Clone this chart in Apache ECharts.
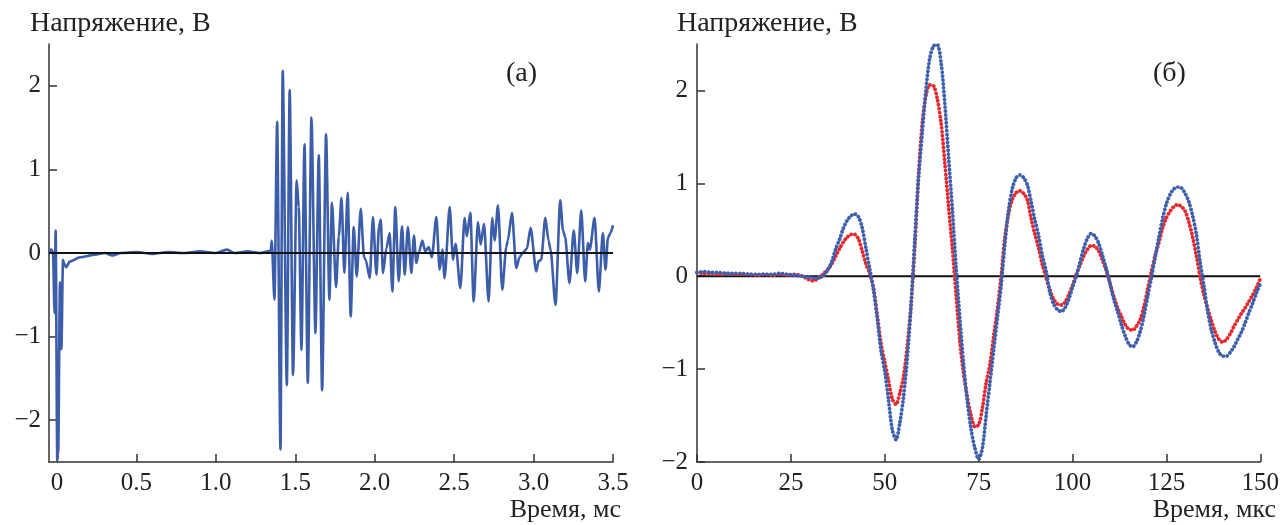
<!DOCTYPE html>
<html>
<head>
<meta charset="utf-8">
<title>Напряжение</title>
<script src="https://cdn.jsdelivr.net/npm/echarts@6.0.0/dist/echarts.min.js"></script>
<style>
  html, body { margin: 0; padding: 0; background: #fff; }
  #chart { width: 1282px; height: 525px; }
</style>
</head>
<body>
<div id="chart"></div>
<script>
// Panel (а): full record, time in ms, voltage in V
const leftTime = [
  -0.050, -0.038, -0.025, -0.015, -0.008, 0.002, 0.008, 0.019, 0.028, 0.038,
  0.044, 0.057, 0.082, 0.145, 0.240, 0.300, 0.350, 0.400, 0.500, 0.600,
  0.700, 0.800, 0.900, 1.000, 1.070, 1.120, 1.200, 1.280, 1.327, 1.346,
  1.352, 1.369, 1.386, 1.407, 1.421, 1.447, 1.465, 1.486, 1.509, 1.522,
  1.539, 1.558, 1.579, 1.602, 1.627, 1.648, 1.669, 1.694, 1.715, 1.731,
  1.757, 1.774, 1.791, 1.809, 1.830, 1.849, 1.868, 1.887, 1.912, 1.933,
  1.943, 1.969, 1.989, 2.011, 2.027, 2.038, 2.052, 2.074, 2.094, 2.111,
  2.130, 2.151, 2.172, 2.189, 2.209, 2.231, 2.247, 2.262, 2.277, 2.300,
  2.318, 2.340, 2.360, 2.388, 2.409, 2.426, 2.440, 2.472, 2.493, 2.509,
  2.539, 2.566, 2.580, 2.602, 2.623, 2.650, 2.667, 2.688, 2.717, 2.740,
  2.755, 2.776, 2.803, 2.828, 2.838, 2.864, 2.891, 2.912, 2.931, 2.958,
  2.981, 3.017, 3.031, 3.048, 3.074, 3.094, 3.107, 3.138, 3.168, 3.185,
  3.199, 3.226, 3.253, 3.275, 3.300, 3.325, 3.342, 3.354, 3.384, 3.411,
  3.436, 3.453, 3.468, 3.484, 3.500
];
const leftVolt = [
  0.00, 0.04, 0.02, -0.72, 0.27, -2.48, -2.40, -0.35, -1.15, -0.08,
  -0.12, -0.17, -0.10, -0.05, -0.02, 0.00, -0.03, 0.00, 0.01, -0.01,
  0.01, 0.00, 0.02, 0.00, 0.04, 0.00, 0.02, 0.00, 0.02, 0.03,
  0.15, -0.56, 1.57, -2.35, 2.18, -1.58, 1.95, -1.46, 0.87, 0.55,
  -1.16, 1.30, -1.55, 1.62, -0.96, 1.17, -1.64, 1.42, -0.56, 0.60,
  -0.41, 0.20, 0.66, -0.24, 0.72, -0.76, 0.31, -0.28, 0.53, -0.05,
  -0.08, -0.30, 0.43, -0.26, 0.31, 0.40, -0.24, 0.06, 0.24, -0.46,
  0.55, -0.34, 0.32, -0.26, 0.31, -0.24, 0.21, -0.12, 0.00, 0.15,
  0.02, 0.07, -0.05, 0.43, -0.20, 0.04, -0.30, 0.55, -0.08, 0.11,
  -0.42, 0.42, 0.20, 0.48, -0.58, 0.37, 0.10, 0.35, -0.58, 0.42,
  0.15, 0.57, -0.44, 0.07, 0.15, 0.48, -0.18, -0.05, 0.00, 0.05,
  0.30, -0.22, -0.10, -0.08, 0.42, 0.15, 0.04, -0.62, 0.63, 0.27,
  0.19, -0.36, 0.27, -0.24, 0.51, -0.34, 0.12, 0.04, 0.42, -0.46,
  0.24, -0.20, 0.18, 0.24, 0.33
];

// Panel (б): first 150 µs, two recordings
const rightTime = [
  0, 2, 4, 6, 8, 10, 12, 14, 16, 18, 20, 22, 24, 26, 28,
  29, 30, 31, 32, 33, 34, 35, 36, 37, 38,
  39, 40, 41, 42, 43, 44, 45, 46, 47, 48,
  49, 50, 51, 52, 53, 54, 55, 56, 57, 58,
  59, 60, 61, 62, 63, 64, 65, 66, 67, 68,
  69, 70, 71, 72, 73, 74, 75, 76, 77, 78,
  79, 80, 81, 82, 83, 84, 85, 86, 87, 88,
  89, 90, 91, 92, 93, 94, 95, 96, 97, 98,
  99, 100, 101, 102, 103, 104, 105, 106, 107, 108,
  109, 110, 111, 112, 113, 114, 115, 116, 117, 118,
  119, 120, 121, 122, 123, 124, 125, 126, 127, 128,
  129, 130, 131, 132, 133, 134, 135, 136, 137, 138,
  139, 140, 141, 142, 143, 144, 145, 146, 147, 148,
  149, 150
];
const blueVolt = [
  0.04, 0.05, 0.04, 0.04, 0.03, 0.03, 0.03, 0.02, 0.02, 0.02, 0.02, 0.03, 0.02, 0.01, 0.00,
  -0.01, -0.01, -0.02, -0.02, -0.01, 0.02, 0.08, 0.17, 0.30, 0.40,
  0.52, 0.60, 0.65, 0.67, 0.64, 0.52, 0.30, 0.08, -0.15, -0.45,
  -0.80, -1.02, -1.33, -1.65, -1.76, -1.58, -1.30, -0.88, -0.32, 0.40,
  1.05, 1.55, 2.02, 2.35, 2.48, 2.49, 2.30, 1.86, 1.28, 0.72,
  0.10, -0.45, -0.95, -1.35, -1.65, -1.85, -1.97, -1.85, -1.50, -1.15,
  -0.80, -0.45, -0.10, 0.35, 0.72, 0.95, 1.06, 1.09, 1.06, 0.98,
  0.80, 0.60, 0.43, 0.22, 0.05, -0.18, -0.30, -0.36, -0.38, -0.34,
  -0.25, -0.12, 0.00, 0.15, 0.30, 0.41, 0.46, 0.43, 0.35, 0.22,
  0.08, -0.08, -0.25, -0.38, -0.52, -0.64, -0.73, -0.76, -0.71, -0.60,
  -0.43, -0.22, -0.02, 0.20, 0.42, 0.62, 0.78, 0.88, 0.94, 0.96,
  0.95, 0.89, 0.80, 0.65, 0.45, 0.15, -0.10, -0.38, -0.58, -0.72,
  -0.82, -0.86, -0.86, -0.82, -0.76, -0.68, -0.60, -0.50, -0.39, -0.29,
  -0.18, -0.08
];
const redVolt = [
  0.04, 0.03, 0.03, 0.02, 0.03, 0.02, 0.02, 0.02, 0.01, 0.02, 0.01, 0.02, 0.01, 0.02, 0.00,
  -0.02, -0.04, -0.05, -0.03, 0.00, 0.04, 0.08, 0.14, 0.22, 0.30,
  0.37, 0.42, 0.45, 0.45, 0.40, 0.27, 0.13, 0.03, -0.12, -0.42,
  -0.72, -0.92, -1.12, -1.32, -1.38, -1.26, -1.08, -0.75, -0.30, 0.30,
  1.10, 1.65, 1.95, 2.06, 2.05, 1.91, 1.65, 1.22, 0.75, 0.30,
  -0.20, -0.70, -1.05, -1.30, -1.50, -1.62, -1.60, -1.42, -1.15, -0.95,
  -0.65, -0.35, 0.00, 0.42, 0.68, 0.83, 0.90, 0.92, 0.89, 0.82,
  0.62, 0.45, 0.30, 0.12, -0.02, -0.15, -0.25, -0.30, -0.31, -0.28,
  -0.20, -0.10, 0.02, 0.12, 0.22, 0.29, 0.33, 0.32, 0.27, 0.17,
  0.06, -0.08, -0.22, -0.34, -0.43, -0.52, -0.57, -0.58, -0.54, -0.47,
  -0.33, -0.14, 0.05, 0.22, 0.36, 0.52, 0.63, 0.70, 0.75, 0.77,
  0.75, 0.70, 0.58, 0.42, 0.22, -0.01, -0.20, -0.35, -0.48, -0.60,
  -0.68, -0.71, -0.68, -0.62, -0.54, -0.47, -0.40, -0.34, -0.27, -0.20,
  -0.12, -0.03
];

// Tick values
const leftXTicks = [0, 0.5, 1.0, 1.5, 2.0, 2.5, 3.0, 3.5];
const yTicks = [-2, -1, 0, 1, 2];

const zip = (xs, ys) => xs.map((x, i) => [x, ys[i]]);

const FONT = '"Liberation Serif", "DejaVu Serif", serif';
const INK = '#222';
const AXIS = '#333';
const minus = v => (v < 0 ? '\u2212' + Math.abs(v) : String(v));

function axisCommon() {
  return {
    axisLine: { show: true, onZero: false, lineStyle: { color: AXIS, width: 1.5 } },
    axisTick: { show: true, inside: true, length: 8, lineStyle: { color: AXIS, width: 1.5 } },
    splitLine: { show: false },
    axisLabel: { color: INK, fontFamily: FONT, fontSize: 25 }
  };
}

const chart = echarts.init(document.getElementById('chart'), null, { renderer: 'canvas' });

const xLeft = axisCommon();
Object.assign(xLeft, {
  type: 'value', gridIndex: 0, min: -0.05, max: 3.5
});
xLeft.axisTick.customValues = leftXTicks;
xLeft.axisLabel = Object.assign({}, xLeft.axisLabel, {
  customValues: leftXTicks, margin: 9,
  formatter: v => (v === 0 ? '0' : v.toFixed(1))
});

const yLeft = axisCommon();
Object.assign(yLeft, { type: 'value', gridIndex: 0, min: -2.5, max: 2.5 });
yLeft.axisTick.customValues = yTicks;
yLeft.axisLabel = Object.assign({}, yLeft.axisLabel, {
  customValues: yTicks, margin: 8, formatter: minus
});

const xRight = axisCommon();
Object.assign(xRight, { type: 'value', gridIndex: 1, min: 0, max: 150, interval: 25 });
xRight.axisLabel = Object.assign({}, xRight.axisLabel, { margin: 9 });

const yRight = axisCommon();
Object.assign(yRight, { type: 'value', gridIndex: 1, min: -2, max: 2.5 });
yRight.axisTick.customValues = yTicks;
yRight.axisLabel = Object.assign({}, yRight.axisLabel, {
  customValues: yTicks, margin: 9, formatter: minus
});

const textStyle = (size, s) => Object.assign({ fill: INK, font: size + 'px ' + FONT }, s);

chart.setOption({
  animation: false,
  backgroundColor: '#fff',
  grid: [
    { left: 49, top: 44, width: 564, height: 418 },
    { left: 697, top: 44, width: 564, height: 418 }
  ],
  xAxis: [xLeft, xRight],
  yAxis: [yLeft, yRight],
  graphic: [
    { type: 'text', left: 30, top: 10, style: textStyle(28, { text: 'Напряжение, В' }) },
    { type: 'text', left: 677, top: 10, style: textStyle(28, { text: 'Напряжение, В' }) },
    { type: 'text', right: 1282 - 621, top: 497, style: textStyle(26, { text: 'Время, мс' }) },
    { type: 'text', right: 6, top: 497, style: textStyle(26, { text: 'Время, мкс' }) },
    { type: 'text', left: 506, top: 60, style: textStyle(28, { text: '(а)' }) },
    { type: 'text', left: 1153, top: 60, style: textStyle(28, { text: '(б)' }) }
  ],
  series: [
    {
      type: 'line', xAxisIndex: 0, yAxisIndex: 0,
      data: zip(leftTime, leftVolt),
      showSymbol: false, smooth: 0.25, smoothMonotone: 'x',
      lineStyle: { color: '#3c5da9', width: 2.6 },
      z: 2
    },
    {
      type: 'line', xAxisIndex: 0, yAxisIndex: 0,
      data: [[-0.05, 0], [3.5, 0]],
      showSymbol: false,
      lineStyle: { color: '#111', width: 2 },
      z: 3
    },
    {
      type: 'line', xAxisIndex: 1, yAxisIndex: 1,
      data: [[0, 0], [150, 0]],
      showSymbol: false,
      lineStyle: { color: '#111', width: 2 },
      z: 1
    },
    {
      type: 'line', xAxisIndex: 1, yAxisIndex: 1,
      data: zip(rightTime, redVolt),
      showSymbol: false, smooth: 0.3,
      lineStyle: { color: '#e8272d', width: 3.8, type: [0.1, 3.8], cap: 'round' },
      z: 2
    },
    {
      type: 'line', xAxisIndex: 1, yAxisIndex: 1,
      data: zip(rightTime, blueVolt),
      showSymbol: false, smooth: 0.3,
      lineStyle: { color: '#3d60ad', width: 3.8, type: [0.1, 3.8], cap: 'round' },
      z: 3
    }
  ]
});
</script>
</body>
</html>
